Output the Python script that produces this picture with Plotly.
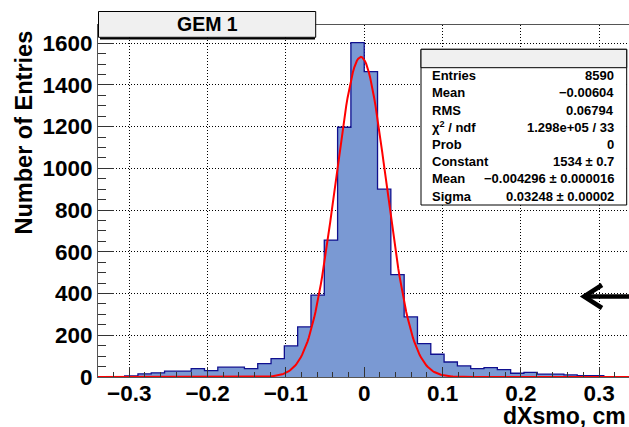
import numpy as np
import plotly.graph_objects as go

# Histogram binning: 40 bins over [-0.34, 0.34]
x_lo, x_hi, n_bins = -0.34, 0.34, 40
bin_edges = np.linspace(x_lo, x_hi, n_bins + 1)

# Entries per bin (dXsmo, cm)
counts = [0, 0, 5, 15, 20, 28, 28, 40, 31, 47,
          47, 40, 64, 88, 149, 240, 392, 656, 1197, 1603,
          1464, 900, 491, 288, 160, 109, 72, 53, 40, 45,
          35, 18, 22, 14, 14, 10, 7, 7, 2, 1]

# Gaussian fit parameters
fit_const = 1534.0
fit_mean = -0.004296
fit_sigma = 0.03248

# Stats box contents
stat_labels = ["Entries", "Mean", "RMS", "χ<sup>2</sup> / ndf", "Prob",
               "Constant", "Mean", "Sigma"]
stat_values = ["8590", "−0.00604", "0.06794", "1.298e+05 / 33", "0",
               "1534 ± 0.7", "−0.004296 ± 0.000016", "0.03248 ± 0.00002"]

title_text = "GEM 1"
x_title = "dXsmo, cm"
y_title = "Number of Entries"

W, H = 629, 427
ML, MR, MT, MB = 98, 0, 25, 50
PW, PH = W - ML - MR, H - MT - MB
FONT = "Liberation Sans, Arial, Helvetica, sans-serif"


def px(x):
    return (x - ML) / PW


def py(y):
    return (H - MB - y) / PH


fig = go.Figure()

# Filled histogram with step outline
fig.add_trace(go.Scatter(
    x=list(bin_edges), y=counts + [counts[-1]],
    mode="lines", line=dict(shape="hv", color="#10108f", width=1.3),
    fill="tozeroy", fillcolor="#7a99d3", hoverinfo="skip", showlegend=False,
))

# Gaussian fit curve
xf = np.linspace(x_lo, x_hi, 400)
yf = fit_const * np.exp(-0.5 * ((xf - fit_mean) / fit_sigma) ** 2)
fig.add_trace(go.Scatter(
    x=xf, y=yf, mode="lines", line=dict(color="#ff0000", width=2),
    hoverinfo="skip", showlegend=False,
))

shapes = []
annotations = []

# Title pave with shadow
shapes.append(dict(type="line", xref="paper", yref="paper",
                   x0=px(100), x1=px(315), y0=py(38.5), y1=py(38.5),
                   line=dict(color="black", width=2)))
shapes.append(dict(type="rect", xref="paper", yref="paper",
                   x0=px(98.5), x1=px(315.7), y0=py(37.3), y1=py(11.5),
                   fillcolor="#f0f0f0", line=dict(color="black", width=1)))
annotations.append(dict(xref="paper", yref="paper", x=px(207), y=py(24.5),
                        text=title_text, showarrow=False, xanchor="center",
                        yanchor="middle",
                        font=dict(family=FONT, size=19.5, color="black",
                                  weight="bold")))

# Stats box
bx0, bx1, by0, by1, bh = 421, 626.7, 49.3, 205, 67.7
shapes.append(dict(type="rect", xref="paper", yref="paper",
                   x0=px(bx0), x1=px(bx1), y0=py(by1), y1=py(by0),
                   fillcolor="white", line=dict(color="black", width=1)))
shapes.append(dict(type="rect", xref="paper", yref="paper",
                   x0=px(bx0), x1=px(bx1), y0=py(bh), y1=py(by0),
                   fillcolor="#f0f0f0", line=dict(color="black", width=1)))
for i, (lab, val) in enumerate(zip(stat_labels, stat_values)):
    yc = py(75.7 + i * 17.2)
    annotations.append(dict(xref="paper", yref="paper", x=px(430), y=yc,
                            text=lab, showarrow=False, xanchor="left",
                            yanchor="middle",
                            font=dict(family=FONT, size=13, color="black",
                                      weight="bold")))
    annotations.append(dict(xref="paper", yref="paper", x=px(616), y=yc,
                            text=val, showarrow=False, xanchor="right",
                            yanchor="middle",
                            font=dict(family=FONT, size=13, color="black",
                                      weight="bold")))

# Left-pointing arrow
shapes.append(dict(type="line", xref="paper", yref="paper",
                   x0=px(586), x1=px(632), y0=py(296.5), y1=py(296.5),
                   line=dict(color="black", width=4.5)))
shapes.append(dict(type="path", xref="paper", yref="paper",
                   path=f"M {px(602)},{py(285)} L {px(584)},{py(296.5)} L {px(602)},{py(308)}",
                   line=dict(color="black", width=4.5)))

# Axis titles
annotations.append(dict(xref="paper", yref="paper", x=px(23.5), y=py(133),
                        text=y_title, textangle=-90, showarrow=False,
                        xanchor="center", yanchor="middle",
                        font=dict(family=FONT, size=23.5, color="black",
                                  weight="bold")))
annotations.append(dict(xref="paper", yref="paper", x=px(626.5), y=py(416),
                        text=x_title, showarrow=False,
                        xanchor="right", yanchor="middle", borderpad=0,
                        font=dict(family=FONT, size=23, color="black",
                                  weight="bold")))

fig.update_layout(
    width=W, height=H,
    margin=dict(l=ML, r=MR, t=MT, b=MB, pad=0),
    paper_bgcolor="white", plot_bgcolor="white",
    shapes=shapes, annotations=annotations,
    showlegend=False,
    font=dict(family=FONT, color="black"),
)

fig.update_xaxes(
    range=[x_lo, x_lo + PW / 783.0],
    dtick=0.1, tick0=0, ticks="inside", ticklen=10, tickwidth=1,
    tickcolor="#333",
    minor=dict(dtick=0.02, ticks="inside", ticklen=5, tickcolor="#333"),
    showgrid=True, gridcolor="black", griddash="1px,2px", gridwidth=1,
    zeroline=False, showline=True, linecolor="#555", linewidth=1,
    mirror=True, ticklabelstandoff=-4,
    tickfont=dict(family=FONT, size=22.5, color="black", weight="bold"),
)
fig.update_yaxes(
    range=[0, 1687],
    dtick=200, tick0=0, ticks="inside", ticklen=16, tickwidth=1,
    tickcolor="#333",
    minor=dict(dtick=50, ticks="inside", ticklen=8, tickcolor="#333"),
    showgrid=True, gridcolor="black", griddash="1px,2px", gridwidth=1,
    zeroline=False, showline=True, linecolor="#555", linewidth=1,
    tickfont=dict(family=FONT, size=22.5, color="black", weight="bold"),
)

fig.write_html("out.html")
